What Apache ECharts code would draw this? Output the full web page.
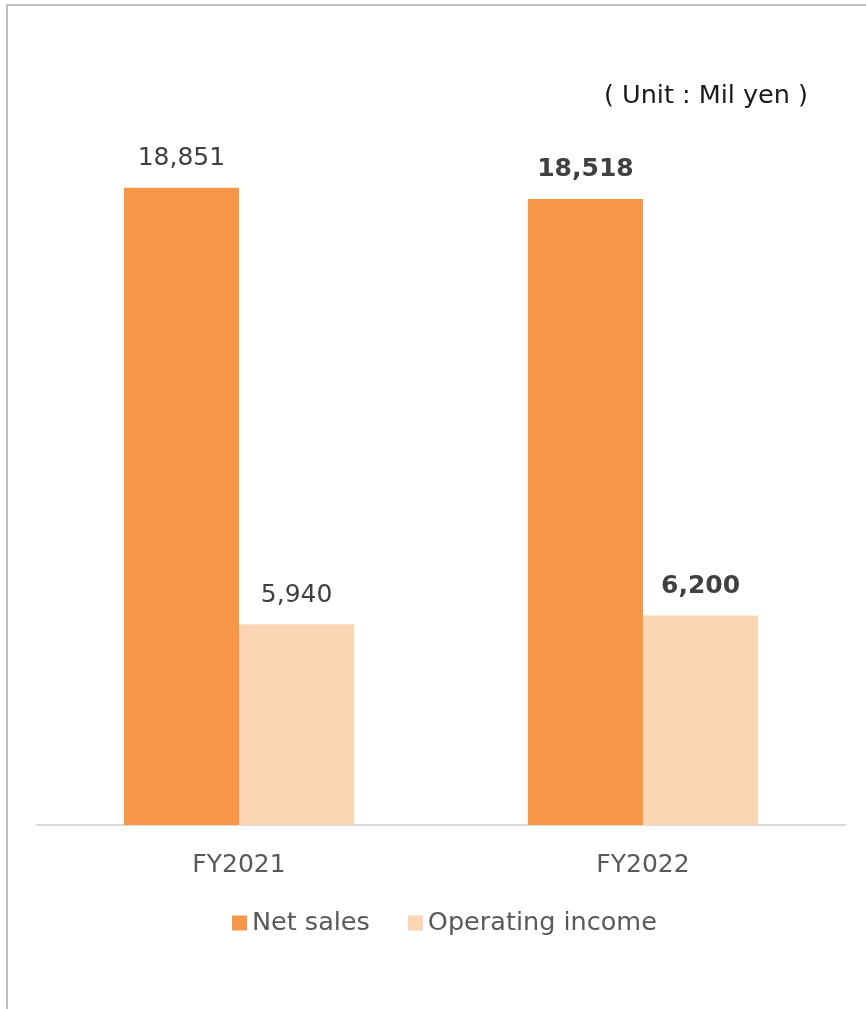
<!DOCTYPE html>
<html>
<head>
<meta charset="utf-8">
<script src="https://cdn.jsdelivr.net/npm/echarts@6/dist/echarts.min.js"></script>
<style>
  html, body { margin: 0; padding: 0; background: #ffffff; }
  #chart { width: 866px; height: 1009px; }
</style>
</head>
<body>
<div id="chart"></div>
<script>
// Fiscal years and results (million yen)
const years = ['FY2021', 'FY2022'];
const netSales = [18851, 18518];
const operatingIncome = [5940, 6200];
// Latest year's figures are emphasised in bold
const emphasised = [false, true];
const seriesNames = ['Net sales', 'Operating income'];
const unitText = '( Unit : Mil yen )';

const FONT = '"DejaVu Sans", Verdana, sans-serif';
const COLORS = ['#F79646', '#FCD5B4'];

function toItems(values) {
  return values.map((v, i) => ({
    value: v,
    label: emphasised[i] ? { fontWeight: 'bold', color: '#404040' } : {}
  }));
}

const fmt = p => p.value.toLocaleString('en-US');

const chart = echarts.init(document.getElementById('chart'));
chart.setOption({
  animation: false,
  textStyle: { fontFamily: FONT },
  graphic: [
    {
      type: 'rect',
      shape: { x: 7, y: 5, width: 900, height: 1100 },
      style: { fill: 'none', stroke: '#BFBFBF', lineWidth: 2 },
      silent: true
    },
    {
      type: 'text',
      x: 706, y: 96,
      style: {
        text: unitText,
        font: '25.5px ' + FONT,
        fill: '#1a1a1a',
        textAlign: 'center',
        textVerticalAlign: 'middle'
      }
    }
  ],
  grid: { left: 37, right: 21, top: 149, bottom: 184, containLabel: false },
  legend: {
    left: 227,
    top: 905,
    itemWidth: 15,
    itemHeight: 15,
    itemGap: 38,
    icon: 'rect',
    textStyle: { fontSize: 25.5, color: '#595959', fontFamily: FONT },
    data: seriesNames
  },
  xAxis: {
    type: 'category',
    data: years,
    axisLine: { lineStyle: { color: '#D9D9D9', width: 2 } },
    axisTick: { show: false },
    axisLabel: { fontSize: 25, color: '#595959', margin: 28, fontFamily: FONT }
  },
  yAxis: {
    type: 'value',
    min: 0,
    max: 20000,
    show: false,
    splitLine: { show: false }
  },
  series: [
    {
      name: seriesNames[0],
      type: 'bar',
      data: toItems(netSales),
      itemStyle: { color: COLORS[0] },
      barGap: '0%',
      barCategoryGap: '43%',
      label: {
        show: true, position: 'top', distance: 17,
        fontSize: 25, lineHeight: 25, color: '#404040', fontFamily: FONT,
        formatter: fmt
      }
    },
    {
      name: seriesNames[1],
      type: 'bar',
      data: toItems(operatingIncome),
      itemStyle: { color: COLORS[1] },
      barGap: '0%',
      barCategoryGap: '43%',
      label: {
        show: true, position: 'top', distance: 16,
        fontSize: 25, lineHeight: 25, color: '#404040', fontFamily: FONT,
        formatter: fmt
      }
    }
  ]
});
</script>
</body>
</html>
